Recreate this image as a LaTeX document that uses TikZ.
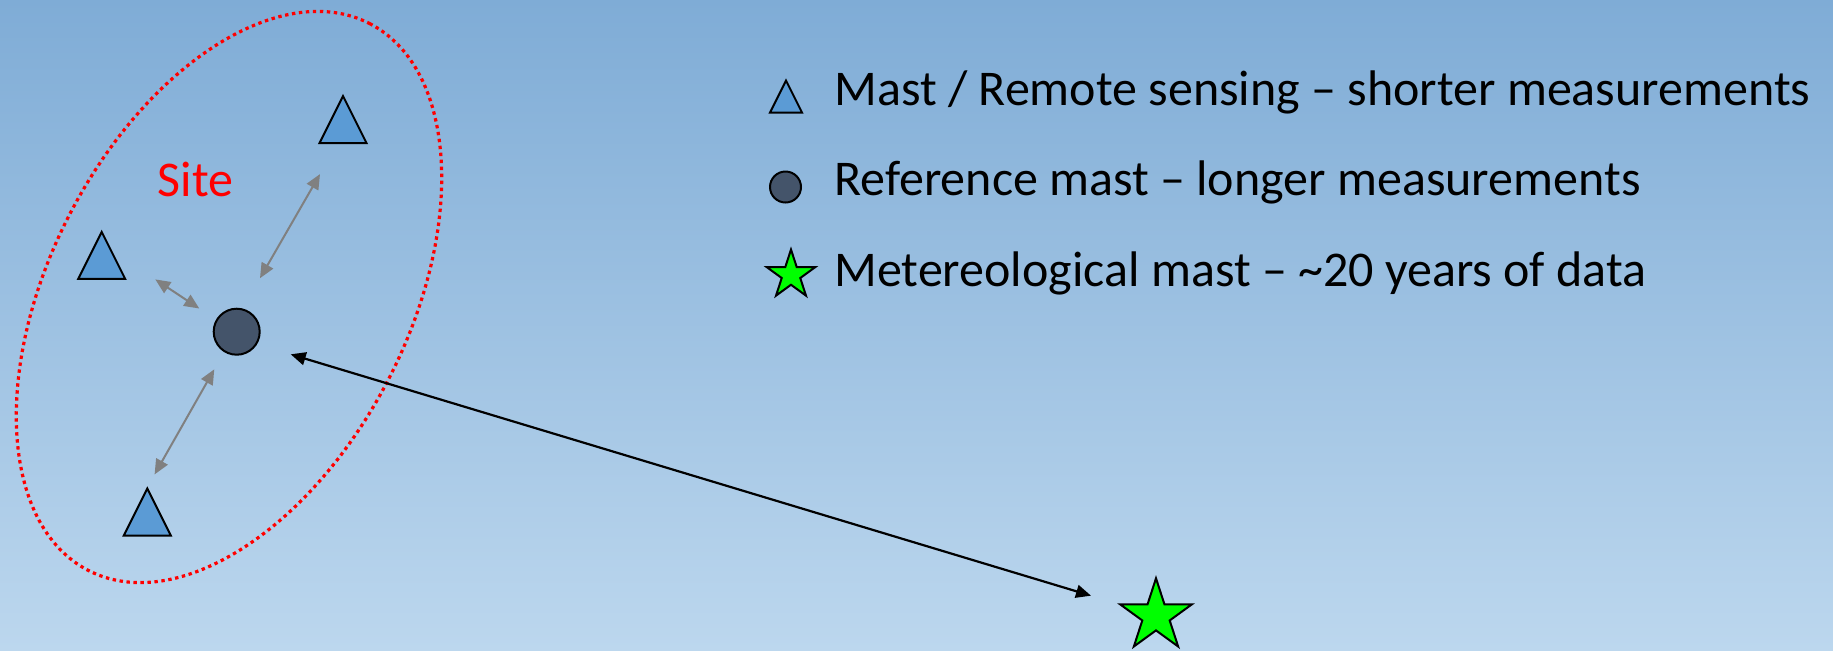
\documentclass[tikz,border=0pt]{standalone}
\usepackage{fontspec}
\setmainfont{Carlito}
\usetikzlibrary{arrows.meta,calc}

\definecolor{bgtop}{RGB}{127,172,214}
\definecolor{bgbottom}{RGB}{188,215,238}
\definecolor{mastblue}{RGB}{91,155,213}
\definecolor{refslate}{RGB}{68,84,106}
\definecolor{metgreen}{RGB}{0,255,0}
\definecolor{linkgray}{RGB}{128,128,128}
\definecolor{sitered}{RGB}{255,0,0}

\tikzset{
  shapeline/.style={draw=black,line width=1pt,line join=miter},
  mastshape/.style={shapeline,fill=mastblue},
  starshape/.style={shapeline,fill=metgreen},
  refnode/.style={circle,shapeline,fill=refslate,inner sep=0pt},
  pics/mast/.style={code={
    \path[mastshape] (0,-#1) -- (#1,#1) -- (-#1,#1) -- cycle;}},
  pics/mast/.default=23.5,
  pics/metstar/.style={code={
    \path[starshape] (-90:#1) -- (-54:{0.382*#1}) -- (-18:#1) -- (18:{0.382*#1})
      -- (54:#1) -- (90:{0.382*#1}) -- (126:#1) -- (162:{0.382*#1})
      -- (198:#1) -- (234:{0.382*#1}) -- cycle;}},
  sitelink/.style={draw=linkgray,line width=1pt,{Triangle[length=7.5pt,width=6.5pt]}-{Triangle[length=7.5pt,width=6.5pt]}},
  metlink/.style={draw=black,line width=1.1pt,{Triangle[length=7.5pt,width=6.5pt]}-{Triangle[length=7.5pt,width=6.5pt]}},
  legendtext/.style={anchor=base west,inner sep=0pt,font=\fontsize{25}{30}\selectfont},
  sitelabel/.style={anchor=base,inner sep=0pt,text=sitered,font=\fontsize{25}{30}\selectfont},
  siteborder/.style={draw=sitered,line width=1.6pt,dash pattern=on 1.7pt off 1.8pt}
}

\begin{document}
\begin{tikzpicture}[x=0.5pt,y=-0.5pt]
  % canvas and background gradient
  \path[use as bounding box] (0,0) rectangle (1833,650);
  \clip (0,0) rectangle (1833,650);
  \shade[top color=bgtop,bottom color=bgbottom] (0,0) rectangle (1833,650);

  % site boundary
  \coordinate (sitecentre) at (229,297);
  \path[siteborder,rotate around={62.8:(sitecentre)}]
    (sitecentre) ellipse [x radius=307.5, y radius=179.5];
  \node[sitelabel] (site) at (195.5,196.5) {Site};

  % masts on the site
  \coordinate (s1) at (343,119.5);
  \coordinate (s2) at (101.7,255.4);
  \coordinate (s3) at (147.3,512);
  \pic at (s1) {mast};
  \pic at (s2) {mast};
  \pic at (s3) {mast};

  % reference mast
  \node[refnode,minimum size=23pt] (ref) at (236.7,331.7) {};

  % meteorological mast
  \coordinate (met) at (1156,616);
  \pic at (met) {metstar=37.7};

  % links between masts
  \draw[sitelink] ($(ref)+(23.3,-53.5)$) -- ($(s1)+(-23,54.6)$);
  \draw[sitelink] ($(ref)+(-37.4,-23.2)$) -- ($(s2)+(53.6,24)$);
  \draw[sitelink] ($(ref)+(-22.4,37.6)$) -- ($(s3)+(7.3,-37.6)$);
  \draw[metlink] ($(ref)+(54,22.6)$) -- ($(met)+(-65,-20.3)$);

  % legend
  \coordinate (k1) at (786,96.5);
  \pic at (k1) {mast=16};
  \node[refnode,minimum size=15.5pt] (k2) at (785.5,187) {};
  \coordinate (k3) at (791,275);
  \pic at (k3) {metstar=25.5};
  \node[legendtext] (l1) at (834,105.5) {Mast / Remote sensing – shorter measurements};
  \node[legendtext] (l2) at (834,195) {Reference mast – longer measurements};
  \node[legendtext] (l3) at (834,286.7) {Metereological mast – \textasciitilde 20 years of data};
\end{tikzpicture}
\end{document}
